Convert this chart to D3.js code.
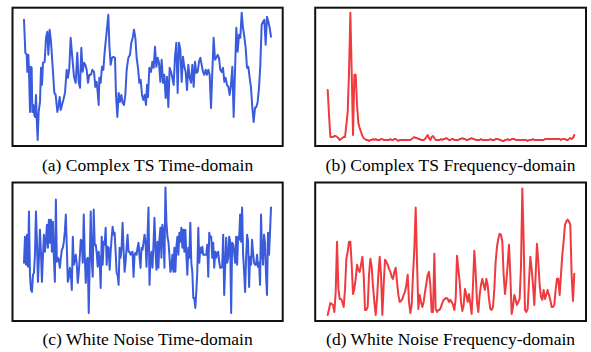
<!DOCTYPE html>
<html>
<head>
<meta charset="utf-8">
<script src="https://cdn.jsdelivr.net/npm/d3@7"></script>
<style>
  html, body { margin: 0; padding: 0; background: #fff; }
  svg { display: block; }
</style>
</head>
<body>
<svg id="chart" width="591" height="352"></svg>
<script>
// ---------- DATA ----------
const captions = [
  "(a) Complex TS Time-domain",
  "(b) Complex TS Frequency-domain",
  "(c) White Noise Time-domain",
  "(d) White Noise Frequency-domain"
];

// (a) Complex TS, time-domain: sample times and values
const complexTime = [
  0,4,8,10,13,15,18,20,23,25,28,31,33,36,38,41,44,48,51,54,
  57,62,66,70,73,77,81,85,91,95,100,104,107,110,114,118,123,128,132,136,
  140,145,150,155,160,164,168,172,176,180,184,188,192,196,201,205,210,214,218,221,
  224,226,230,234,238,242,248,253,256,260,264,268,273,276,280,284,288,292,296,300,
  304,308,313,318,322,326,330,334,338,342,346,350,354,358,362,366,369,372,376,
  381,385,389,393,397,401,405,409,413,417,421,425,429,433,437,441,445,449,453,457,
  461,465,469,473,477,481,485,489,493,497,501,505,509,513,517,521,525,529,533,537,
  541,545,549,553,557,561,565,569,573,577,581,585,589,593,597,601,605,609,613,617,
  621,625,629,633,637,641,645,649,653,657,661,665,669,673,677,681,685,689,693,697,
  701,705,709,713,717,721,725,729,733,737,741
];
const complexValues = [
  126,93,91,74,91,74,34,79,78,34,41,31,29,51,28,6,34,44,78,61,
  83,84,108,114,91,116,104,84,53,51,34,41,49,36,41,46,53,76,68,78,
  108,88,69,63,93,64,58,98,74,83,81,76,63,71,71,76,74,59,64,54,
  41,68,63,79,76,94,114,131,101,81,88,89,88,51,29,53,44,51,43,41,
  51,76,88,91,103,108,116,108,88,78,63,66,51,46,51,41,61,49,78,
  74,84,78,99,79,88,83,64,86,63,71,48,69,39,78,74,68,61,89,103,
  53,103,96,64,89,79,74,56,81,68,63,81,59,84,73,74,84,88,81,74,
  71,76,71,76,71,38,74,108,86,88,91,88,76,74,78,64,68,61,59,51,
  61,79,29,74,118,94,111,108,133,118,109,98,78,79,68,58,38,24,38,39,
  44,58,81,121,124,126,101,129,124,118,109
];

// (b) Complex TS, frequency-domain amplitudes
const complexSpectrum = [
  56,31,9,9,9,10,10,9,8,6,7,8,9,9,21,34,74,133,74,11,
  71,71,41,23,18,14,10,8,7,6,6,5,6,6,7,6,7,6,6,6,
  7,7,6,6,6,6,6,7,6,6,7,7,6,5,6,6,6,6,6,6,
  6,6,6,7,8,9,8,8,7,7,6,6,6,7,9,11,8,6,9,10,
  8,6,6,6,6,7,6,7,7,8,7,6,
  6,7,7,6,6,6,6,7,7,8,7,7,6,6,7,7,8,7,7,6,
  6,6,6,7,6,6,6,6,6,6,7,6,6,6,7,7,7,6,6,5,
  5,6,6,7,6,6,7,7,7,6,6,6,6,6,6,6,6,6,5,6,
  6,6,7,6,6,6,6,6,6,6,6,7,7,7,7,7,7,7,7,7,
  7,7,7,6,7,7,7,6,6,7,8,7,8,11
];

// (c) White noise, time-domain values
const noiseValues = [
  58,84,56,86,54,109,46,31,29,46,48,66,109,79,39,63,91,69,39,64,
  86,69,79,96,73,101,78,101,69,99,63,39,121,59,63,61,53,63,71,73,
  79,89,106,73,39,43,53,48,31,84,56,61,66,56,38,49,64,81,79,58,
  106,66,38,61,63,8,59,109,61,44,111,76,76,68,54,69,59,33,84,56,
  79,76,93,56,74,73,51,69,83,94,86,88,69,48,46,36,73,63,73,98,
  71,49,59,73,86,69,69,66,68,69,44,66,68,66,73,78,64,53,73,71,
  78,86,79,54,84,113,36,63,
  69,53,76,103,71,51,79,53,81,93,63,96,88,53,133,99,84,79,66,49,
  53,66,49,73,49,74,84,66,88,79,93,73,91,69,91,66,46,73,63,98,
  58,49,23,23,13,29,49,93,58,73,68,74,66,66,66,66,76,44,88,83,
  84,63,78,53,69,63,68,69,59,53,53,54,86,26,54,83,58,63,84,79,
  8,78,76,68,58,84,56,84,81,106,79,113,66,49,29,63,86,79,34,64,
  56,81,68,58,56,56,66,54,58,36,106,69,56,86,78,46,26,88,66,88,
  113
];

// (d) White noise, frequency-domain amplitudes
const noiseSpectrum = [
  6,12,18,17,16,9,29,79,32,22,22,19,14,32,62,69,79,79,56,27,
  32,42,56,51,49,56,64,46,11,11,14,46,62,54,34,19,6,22,46,64,
  46,6,36,61,59,56,52,49,44,42,49,53,39,26,19,20,22,26,29,36,
  46,19,8,16,46,72,113,59,12,26,19,14,19,29,37,46,49,36,9,9,
  67,12,9,11,11,14,18,21,22,23,22,19,
  21,19,16,11,22,65,52,39,19,10,16,32,26,19,27,17,7,36,70,49,
  19,9,26,36,42,36,31,42,36,22,12,11,14,32,59,74,82,87,86,79,
  46,27,39,56,76,46,7,14,26,21,16,19,22,54,132,80,11,9,12,39,
  64,52,36,16,46,77,59,36,24,21,31,22,26,31,26,21,14,14,16,31,
  42,42,26,46,66,79,96,99,101,99,96,46,20,47
];

// ---------- DRAWING ----------
const svg = d3.select("#chart");
const BLUE = "#3a5bdb", RED = "#ef3a3f";

const panels = [
  { frame: [12.5, 7.7, 282.7, 146],  xs: complexTime, ys: complexValues, color: BLUE, lx: [24, 271],     cap: captions[0], capY: 170.5 },
  { frame: [315.2, 7.7, 586, 146],   xs: null, ys: complexSpectrum, color: RED,  lx: [327.7, 574.3], cap: captions[1], capY: 170.5 },
  { frame: [12.5, 182.5, 282.7, 321], xs: null, ys: noiseValues,    color: BLUE, lx: [24, 271],     cap: captions[2], capY: 344.5 },
  { frame: [315.2, 182.5, 586, 321],  xs: null, ys: noiseSpectrum,  color: RED,  lx: [327.7, 574.3], cap: captions[3], capY: 344.5 }
];

panels.forEach(p => {
  const [x0, y0, x1, y1] = p.frame;
  const xs = p.xs || p.ys.map((d, i) => i);
  const x = d3.scaleLinear().domain(d3.extent(xs)).range(p.lx);
  const y = d3.scaleLinear().domain([0, 138]).range([y1, y0]);
  const line = d3.line().x((d, i) => x(xs[i])).y(d => y(d));

  const g = svg.append("g");
  g.append("path")
    .datum(p.ys)
    .attr("d", line)
    .attr("fill", "none")
    .attr("stroke", p.color)
    .attr("stroke-width", 2)
    .attr("stroke-linejoin", "round")
    .attr("stroke-linecap", "round");

  g.append("rect")
    .attr("x", x0).attr("y", y0)
    .attr("width", x1 - x0).attr("height", y1 - y0)
    .attr("fill", "none")
    .attr("stroke", "#111")
    .attr("stroke-width", 2);

  svg.append("text")
    .attr("x", (x0 + x1) / 2)
    .attr("y", p.capY)
    .attr("text-anchor", "middle")
    .attr("font-family", "'Liberation Serif', 'Times New Roman', serif")
    .attr("font-size", "17.5px")
    .attr("fill", "#000")
    .text(p.cap);
});
</script>
</body>
</html>
